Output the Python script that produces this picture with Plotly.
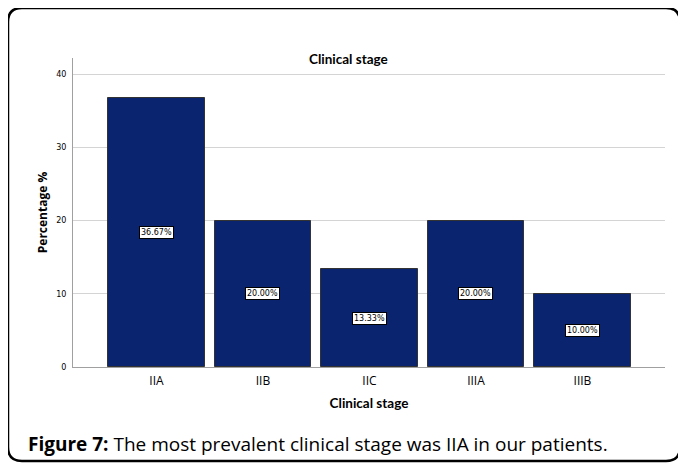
import plotly.graph_objects as go

# Data
stages = ["IIA", "IIB", "IIC", "IIIA", "IIIB"]
percent = [36.67, 20.00, 13.33, 20.00, 10.00]
y_ticks = [0, 10, 20, 30, 40]

# the page body adds an 8px offset, so the figure is laid out in shifted pixels
OFF = 8
W, H = 678, 457
L, T = 73 - OFF, 58 - OFF
R = W - (665 - OFF)
B = H - (367 - OFF)
pw, ph = W - L - R, H - T - B


def px_x(px):
    return (px - OFF - L) / pw


def px_y(py):
    return 1 - (py - OFF - T) / ph


fig = go.Figure()
fig.add_trace(go.Bar(
    x=stages,
    y=percent,
    width=0.91,
    marker=dict(color="#0b2470", line=dict(color="#333333", width=1)),
    hoverinfo="x+y",
    showlegend=False,
))

# boxed value labels at the middle of each bar
for s, v in zip(stages, percent):
    fig.add_annotation(
        x=s, y=v / 2, text=f"{v:.2f}%",
        showarrow=False,
        font=dict(family="DejaVu Sans", size=8, color="black"),
        bgcolor="white", bordercolor="black", borderwidth=1, borderpad=1,
    )

# outer rounded frame
x0, x1, y0, y1, r = 8, 680, 8, 461, 14
pts = [
    (x0 + r, y0), (x1 - r, y0), (x1, y0), (x1, y0 + r),
    (x1, y1 - r), (x1, y1), (x1 - r, y1),
    (x0 + r, y1), (x0, y1), (x0, y1 - r),
    (x0, y0 + r), (x0, y0), (x0 + r, y0),
]
p = [(px_x(a), px_y(b)) for a, b in pts]
path = (f"M {p[0][0]},{p[0][1]} L {p[1][0]},{p[1][1]} Q {p[2][0]},{p[2][1]} {p[3][0]},{p[3][1]} "
        f"L {p[4][0]},{p[4][1]} Q {p[5][0]},{p[5][1]} {p[6][0]},{p[6][1]} "
        f"L {p[7][0]},{p[7][1]} Q {p[8][0]},{p[8][1]} {p[9][0]},{p[9][1]} "
        f"L {p[10][0]},{p[10][1]} Q {p[11][0]},{p[11][1]} {p[12][0]},{p[12][1]} Z")
fig.add_shape(type="path", path=path, xref="paper", yref="paper",
              line=dict(color="black", width=2.5), layer="above")

# chart title
fig.add_annotation(
    x=px_x(348), y=px_y(49), xref="paper", yref="paper",
    text="<b>Clinical stage</b>", showarrow=False,
    font=dict(family="Lato", size=13.5, color="black"),
)

# caption
fig.add_annotation(
    x=px_x(26), y=px_y(444), xref="paper", yref="paper",
    xanchor="left", yanchor="middle",
    text="<b>Figure 7:</b> The most prevalent clinical stage was IIA in our patients.",
    showarrow=False,
    font=dict(family="Open Sans", size=19, color="black"),
)

fig.update_layout(
    width=W, height=H,
    margin=dict(l=L, r=R, t=T, b=B, autoexpand=False),
    paper_bgcolor="white",
    plot_bgcolor="white",
    bargap=0,
    xaxis=dict(
        range=[-0.784, 4.775],
        automargin=False,
        showline=True, linecolor="#a0a0a0", linewidth=1,
        ticks="outside", ticklen=3, tickcolor="rgba(0,0,0,0)",
        showgrid=False,
        tickfont=dict(family="Open Sans", size=12, color="black"),
        title=dict(text="<b>Clinical stage</b>", standoff=10,
                   font=dict(family="Lato", size=13.5, color="black")),
    ),
    yaxis=dict(
        range=[0, 42.2],
        automargin=False,
        tickvals=y_ticks,
        showline=True, linecolor="#a0a0a0", linewidth=1,
        ticks="outside", ticklen=4, tickcolor="rgba(0,0,0,0)",
        showgrid=True, gridcolor="#d4d4d4", gridwidth=1,
        zeroline=False,
        tickfont=dict(family="DejaVu Sans", size=8, color="black"),
        title=dict(text="<b>Percentage %</b>", standoff=6,
                   font=dict(family="Open Sans", size=12, color="black")),
    ),
)

fig.write_html("out.html")
